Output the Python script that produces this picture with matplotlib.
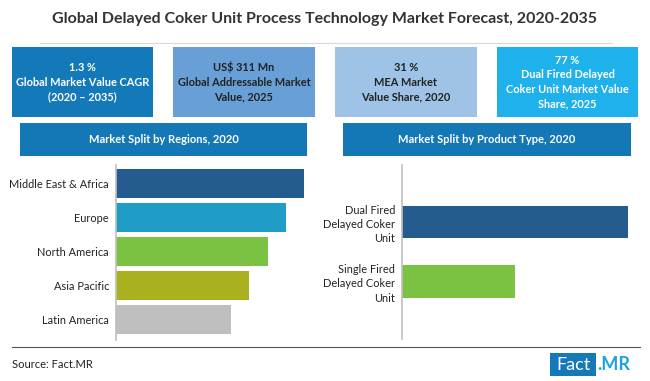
import matplotlib
matplotlib.use("Agg")
import matplotlib.pyplot as plt
from matplotlib.patches import Rectangle

plt.rcParams['font.family'] = ['Lato', 'DejaVu Sans']

W, H = 650, 381
DPI = 100

title = "Global Delayed Coker Unit Process Technology Market Forecast, 2020-2035"
kpi_texts = ["1.3 %\nGlobal Market Value CAGR\n(2020 \u2013 2035)",
             "US$ 311 Mn\nGlobal Addressable Market\nValue, 2025",
             "31 %\nMEA Market\nValue Share, 2020",
             "77 %\nDual Fired Delayed\nCoker Unit Market Value\nShare, 2025"]
kpi_colors = ["#1479b8", "#679fd6", "#9ec3e6", "#1fb1ec"]
kpi_text_colors = ["white", "#222222", "#222222", "white"]

regions = ["Middle East & Africa", "Europe", "North America", "Asia Pacific", "Latin America"]
region_values = [31, 28, 25, 22, 19]
region_colors = ["#245c90", "#1f9dc6", "#7cc242", "#a9b21e", "#bfbfbf"]

products = ["Dual Fired\nDelayed Coker\nUnit", "Single Fired\nDelayed Coker\nUnit"]
product_values = [66, 33]
product_colors = ["#245c90", "#7cc242"]

fig = plt.figure(figsize=(W / DPI, H / DPI), dpi=DPI)
bg = fig.add_axes([0, 0, 1, 1])
bg.set_xlim(0, W)
bg.set_ylim(H, 0)
bg.axis('off')

def rect(x0, y0, x1, y1, color):
    bg.add_patch(Rectangle((x0, y0), x1 - x0, y1 - y0, facecolor=color, edgecolor='none'))

# title
bg.text(325, 19, title, ha='center', va='center', fontsize=11.5, fontweight='bold', color='#333333')
bg.plot([40, 612], [43, 43], color='#d9d9d9', lw=0.8)

# KPI boxes
box_x = [(12, 153), (173, 315), (335, 477), (497, 638)]
for (x0, x1), txt, c, tc in zip(box_x, kpi_texts, kpi_colors, kpi_text_colors):
    rect(x0, 47, x1, 117, c)
    bg.text((x0 + x1) / 2, 82, txt, ha='center', va='center', fontsize=7.9, fontweight='bold',
            color=tc, linespacing=1.4)

# section headers
rect(20, 123, 307, 156, "#1478b6")
bg.text(163.5, 139.5, "Market Split by Regions, 2020", ha='center', va='center',
        fontsize=8.0, fontweight='bold', color='white')
rect(343, 123, 631, 156, "#1478b6")
bg.text(487, 139.5, "Market Split by Product Type, 2020", ha='center', va='center',
        fontsize=8.0, fontweight='bold', color='white')

# footer
bg.plot([12, 640], [347, 347], color='#555555', lw=0.8)
bg.text(12, 365, "Source: Fact.MR", ha='left', va='center', fontsize=8, color='#222222')
rect(550, 353, 596, 376, "#1479b8")
bg.text(573, 364.5, "Fact", ha='center', va='center', fontsize=13, color='white')
bg.text(597, 364.5, ".MR", ha='left', va='center', fontsize=13, fontweight='bold', color='#1aa3dd')

def px_axes(x0, y0, x1, y1):
    return fig.add_axes([x0 / W, 1 - y1 / H, (x1 - x0) / W, (y1 - y0) / H])

# left chart
axL = px_axes(116, 165, 312, 340)
ypos = list(range(len(regions)))
axL.barh(ypos, region_values, height=0.85, color=region_colors)
axL.set_xlim(0, 31 * 196 / 188)
axL.set_ylim(4.59, -0.54)
axL.set_yticks(ypos)
axL.set_yticklabels(regions, fontsize=7.9, color='#222222')
axL.tick_params(axis='y', length=0, pad=5)
axL.set_xticks([])
for s in ['top', 'right', 'bottom']:
    axL.spines[s].set_visible(False)
axL.spines['left'].set_color('#bfbfbf')
axL.spines['left'].set_linewidth(1.2)
axL.patch.set_alpha(0)

# right chart
axR = px_axes(402, 165, 632, 339)
ypos2 = list(range(len(products)))
axR.barh(ypos2, product_values, height=0.55, color=product_colors)
axR.set_xlim(0, 66 * 230 / 226)
axR.set_ylim(1.97, -0.96)
axR.set_yticks(ypos2)
axR.set_yticklabels(products, fontsize=7.9, color='#222222', ha='right', multialignment='right',
                    linespacing=1.35)
axR.tick_params(axis='y', length=0, pad=5)
axR.set_xticks([])
for s in ['top', 'right', 'bottom']:
    axR.spines[s].set_visible(False)
axR.spines['left'].set_color('#bfbfbf')
axR.spines['left'].set_linewidth(1.2)
axR.patch.set_alpha(0)

fig.savefig("out.png", dpi=DPI)
